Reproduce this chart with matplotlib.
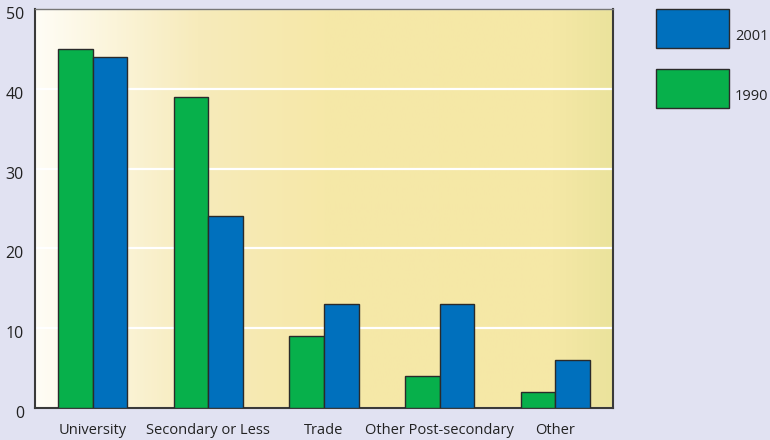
import numpy as np
import matplotlib.pyplot as plt
import matplotlib.transforms as mtransforms
from matplotlib.colors import LinearSegmentedColormap
from matplotlib.patches import Rectangle

categories = ["University", "Secondary or Less", "Trade", "Other Post-secondary", "Other"]
values_1990 = [45, 39, 9, 4, 2]
values_2001 = [44, 24, 13, 13, 6]
series_labels = ["2001", "1990"]

green = "#07b04b"
blue = "#0070bd"
bg = "#e1e2f2"
edge = "#2a2a2a"

plt.rcParams["font.family"] = ["Open Sans", "DejaVu Sans"]

fig = plt.figure(figsize=(7.7, 4.4), dpi=100, facecolor=bg)
ax = fig.add_axes([35 / 770, 1 - 408 / 440, 578 / 770, 399 / 440])

# horizontal cream-to-yellow fill behind the bars
grad = LinearSegmentedColormap.from_list(
    "cream", [(0.0, "#fffdf6"), (0.28, "#f7ebbb"), (0.5, "#f6e8a8"),
              (0.9, "#f5e8a6"), (1.0, "#ebe39c")])
ax.imshow(np.linspace(0, 1, 256)[None, :], cmap=grad, aspect="auto",
          extent=[-0.5, 4.5, 0, 50], zorder=0)

x = np.arange(len(categories))
w = 0.3
ax.bar(x - w / 2, values_1990, w, color=green, edgecolor=edge, linewidth=1.0, zorder=3)
ax.bar(x + w / 2, values_2001, w, color=blue, edgecolor=edge, linewidth=1.0, zorder=3)

ax.set_xlim(-0.5, 4.5)
ax.set_ylim(0, 50)
ax.set_yticks(range(0, 51, 10))
ax.set_xticks(x)
ax.set_xticklabels(categories)
ax.yaxis.grid(True, color="white", linewidth=1.6, zorder=1)
ax.set_axisbelow(True)
ax.tick_params(axis="x", length=0, labelsize=10.5, colors="#222222", pad=11)
ax.tick_params(axis="y", length=0, labelsize=11.5, colors="#222222", pad=8)

# y labels sit a few pixels below their gridlines
shift = mtransforms.ScaledTranslation(0, -4 / 100, fig.dpi_scale_trans)
for lbl in ax.get_yticklabels():
    lbl.set_transform(lbl.get_transform() + shift)

for s in ax.spines.values():
    s.set_color("#3a3a3a")
    s.set_linewidth(1.5)
ax.spines["top"].set_color("#777777")
ax.spines["top"].set_linewidth(1.0)

# legend boxes on the figure, right side
for (y0, col, lab) in [(9, blue, series_labels[0]), (69, green, series_labels[1])]:
    fig.patches.append(Rectangle((656 / 770, 1 - (y0 + 39) / 440), 73 / 770, 39 / 440,
                                 transform=fig.transFigure, facecolor=col,
                                 edgecolor=edge, linewidth=1.0))
    fig.text(735 / 770, 1 - (y0 + 27) / 440, lab, fontsize=10.5, color="#222222",
             va="center", ha="left")

fig.savefig("out.png", dpi=100, facecolor=bg)
